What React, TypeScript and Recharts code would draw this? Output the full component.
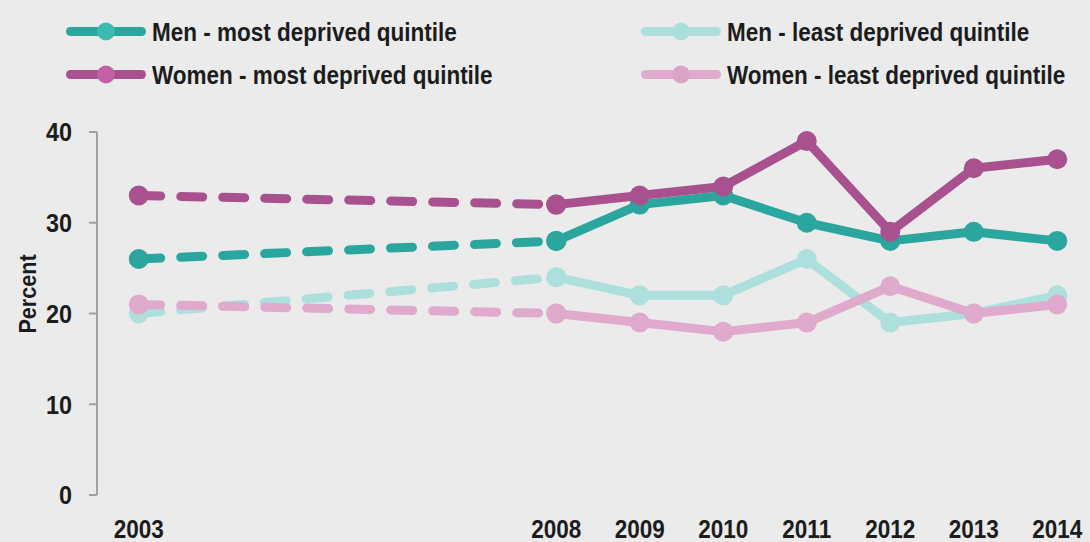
import React from 'react';
import { LineChart, Line, XAxis, YAxis } from 'recharts';

const years = [2003, 2004, 2005, 2006, 2007, 2008, 2009, 2010, 2011, 2012, 2013, 2014];
const labeledYears = [2003, 2008, 2009, 2010, 2011, 2012, 2013, 2014];
const splitYear = 2008;

const menMost = [26, null, null, null, null, 28, 32, 33, 30, 28, 29, 28];
const menLeast = [20, null, null, null, null, 24, 22, 22, 26, 19, 20, 22];
const womenMost = [33, null, null, null, null, 32, 33, 34, 39, 29, 36, 37];
const womenLeast = [21, null, null, null, null, 20, 19, 18, 19, 23, 20, 21];

const yTicks = [0, 10, 20, 30, 40];

const seriesNames = {
  menMost: 'Men - most deprived quintile',
  menLeast: 'Men - least deprived quintile',
  womenMost: 'Women - most deprived quintile',
  womenLeast: 'Women - least deprived quintile',
};

const colors: Record<string, string> = {
  menMost: '#2aa69e',
  menLeast: '#ade0dd',
  womenMost: '#a9518f',
  womenLeast: '#e0aacc',
};
const legendDotColors: Record<string, string> = {
  menMost: '#3dbbb3',
  menLeast: '#a9dedb',
  womenMost: '#c360a6',
  womenLeast: '#dca3c8',
};

const seriesValues: Record<string, (number | null)[]> = { menMost, menLeast, womenMost, womenLeast };
const drawOrder = ['menLeast', 'womenLeast', 'menMost', 'womenMost'];

const data = years.map((year, i) => {
  const row: any = { year };
  Object.keys(seriesValues).forEach((k) => {
    const v = seriesValues[k][i];
    row[k + '_d'] = year <= splitYear ? v : null;
    row[k + '_s'] = year >= splitYear ? v : null;
  });
  return row;
});

const boundaries = years.map((y) => y - 0.5).concat([years[years.length - 1] + 0.5]);

const FONT = "'Liberation Sans', Arial, Helvetica, sans-serif";
const COND = 0.9;
const AXIS_COLOR = '#a0a0a0';
const TEXT_COLOR = '#1c1c1c';

const LegendItem = ({ k, x, y }: { k: string; x: number; y: number }) => (
  <g>
    <line x1={x + 4.5} y1={y} x2={x + 75.5} y2={y} stroke={colors[k]} strokeWidth={9} strokeLinecap="round" />
    <circle cx={x + 40} cy={y} r={9} fill={legendDotColors[k]} />
    <text
      transform={`translate(${x + 86} ${y}) scale(${COND} 1)`}
      dy="0.36em"
      fontFamily={FONT}
      fontWeight="bold"
      fontSize={25}
      fill={TEXT_COLOR}
    >
      {(seriesNames as any)[k]}
    </text>
  </g>
);

const XTick = (props: any) => {
  const { x, y, payload } = props;
  return (
    <text
      transform={`translate(${x} ${y}) scale(${COND} 1)`}
      textAnchor="middle"
      dy="0.71em"
      fontFamily={FONT}
      fontWeight="bold"
      fontSize={25}
      fill={TEXT_COLOR}
    >
      {payload.value}
    </text>
  );
};

const YTick = (props: any) => {
  const { x, y, payload } = props;
  return (
    <text
      transform={`translate(${x} ${y}) scale(${COND} 1)`}
      textAnchor="end"
      dy="0.36em"
      fontFamily={FONT}
      fontWeight="bold"
      fontSize={26}
      fill={TEXT_COLOR}
    >
      {payload.value}
    </text>
  );
};

export default function App() {
  return (
    <div style={{ position: 'absolute', left: 0, top: 0, width: 1090, height: 542, overflow: 'hidden', background: '#ebebeb' }}>
      <svg width={1090} height={110} style={{ position: 'absolute', left: 0, top: 0 }}>
        <LegendItem k="menMost" x={66} y={31.5} />
        <LegendItem k="womenMost" x={66} y={74.5} />
        <LegendItem k="menLeast" x={641} y={31.5} />
        <LegendItem k="womenLeast" x={641} y={74.5} />
      </svg>
      <div style={{ position: 'absolute', left: 0, top: 0 }}>
        <LineChart width={1100} height={542} data={data} margin={{ top: 132, right: 1, bottom: 0, left: 0 }}>
          <XAxis
            xAxisId="grid"
            type="number"
            dataKey="year"
            domain={[boundaries[0], boundaries[boundaries.length - 1]]}
            ticks={boundaries}
            tickFormatter={() => ''}
            height={0}
            tickSize={8}
            axisLine={{ stroke: AXIS_COLOR, strokeWidth: 2 }}
            tickLine={{ stroke: AXIS_COLOR, strokeWidth: 2 }}
            allowDataOverflow
          />
          <XAxis
            xAxisId="lab"
            type="number"
            dataKey="year"
            domain={[boundaries[0], boundaries[boundaries.length - 1]]}
            ticks={labeledYears}
            height={47}
            tickSize={0}
            tickMargin={25}
            axisLine={false}
            tickLine={false}
            interval={0}
            tick={<XTick />}
            allowDataOverflow
          />
          <YAxis
            type="number"
            domain={[0, 40]}
            ticks={yTicks}
            width={97}
            tickSize={8}
            tickMargin={17}
            interval={0}
            axisLine={{ stroke: AXIS_COLOR, strokeWidth: 2 }}
            tickLine={{ stroke: AXIS_COLOR, strokeWidth: 2 }}
            tick={<YTick />}
            label={(props: any) => {
              const vb = props.viewBox || {};
              const cx = (vb.x || 0) + 27;
              const cy = 294;
              return (
                <text
                  transform={`translate(${cx} ${cy}) rotate(-90) scale(${COND} 1)`}
                  textAnchor="middle"
                  dy="0.36em"
                  fontFamily={FONT}
                  fontWeight="bold"
                  fontSize={24}
                  fill={TEXT_COLOR}
                >
                  Percent
                </text>
              );
            }}
          />
          {drawOrder.map((k) => (
            <Line
              key={k + '_d'}
              xAxisId="lab"
              dataKey={k + '_d'}
              stroke={colors[k]}
              strokeWidth={9}
              strokeDasharray="22 20"
              strokeLinecap="round"
              connectNulls
              dot={{ r: 10, fill: colors[k], stroke: 'none' }}
              activeDot={false}
              isAnimationActive={false}
            />
          ))}
          {drawOrder.map((k) => (
            <Line
              key={k + '_s'}
              xAxisId="lab"
              dataKey={k + '_s'}
              stroke={colors[k]}
              strokeWidth={9}
              strokeLinecap="round"
              strokeLinejoin="round"
              dot={{ r: 10, fill: colors[k], stroke: 'none' }}
              activeDot={false}
              isAnimationActive={false}
            />
          ))}
        </LineChart>
      </div>
    </div>
  );
}
